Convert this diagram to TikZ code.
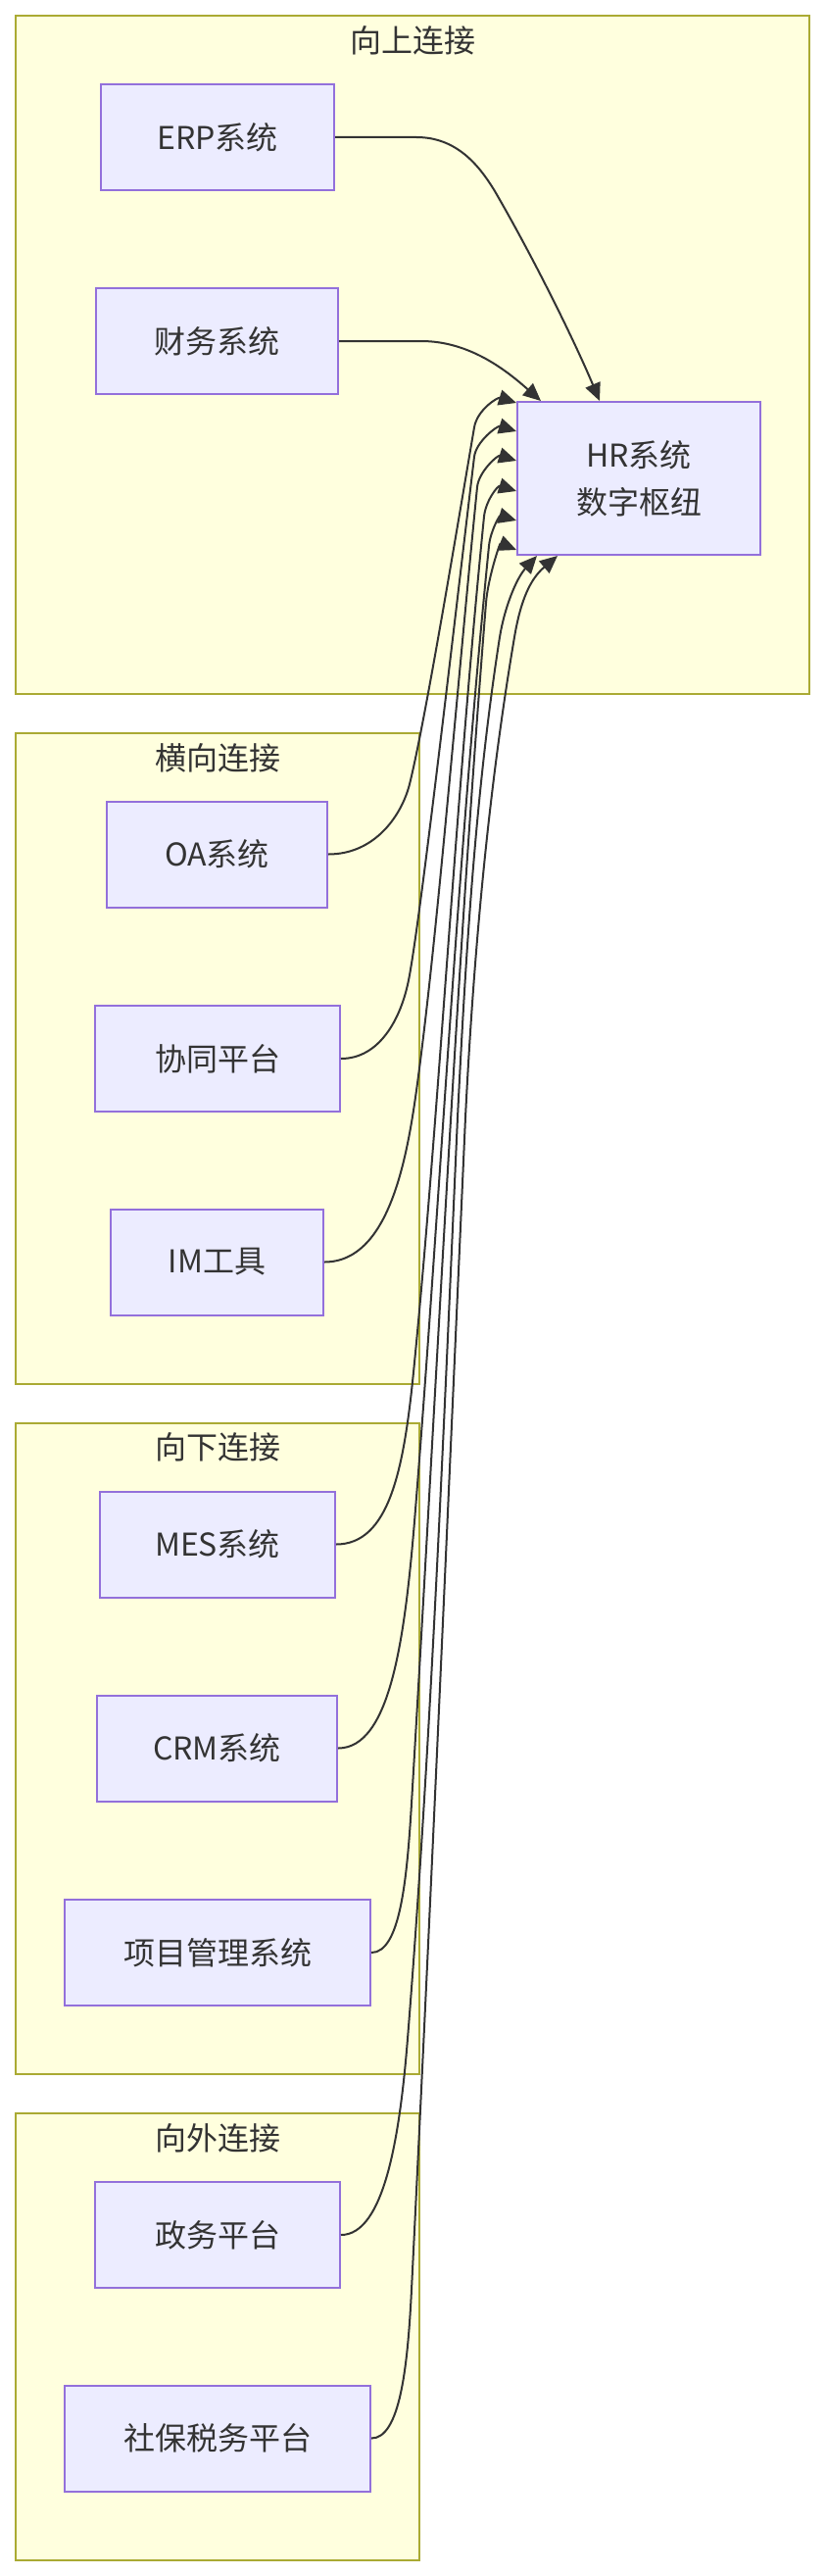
\documentclass[tikz,border=0pt]{standalone}
\usepackage{fontspec}
\setmainfont{Noto Sans CJK SC}
\usetikzlibrary{arrows.meta,calc}
\definecolor{clfill}{HTML}{FFFFDE}
\definecolor{clline}{HTML}{AAAA33}
\definecolor{ndfill}{HTML}{ECECFF}
\definecolor{ndline}{HTML}{9370DB}
\definecolor{txt}{HTML}{333333}
\definecolor{edgec}{HTML}{333333}
\begin{document}
\begin{tikzpicture}[x=0.5pt,y=-0.5pt,
  cluster/.style={draw=clline, fill=clfill, line width=1pt, inner sep=0pt},
  box/.style={draw=ndline, fill=ndfill, line width=1pt, minimum height=54pt, inner sep=0pt,
    font=\fontsize{16pt}{24pt}\selectfont, text=txt, align=center},
  ctitle/.style={font=\fontsize{16pt}{24pt}\selectfont, text=txt, inner sep=0pt},
  edge/.style={draw=edgec, line width=1pt, -{Triangle[length=9pt,width=8pt]}}]

\fill[white] (0,0) rectangle (842,2628);
\useasboundingbox (0,0) rectangle (842,2628);

% clusters
\node[cluster, minimum width=405pt, minimum height=346pt] (c1) at (421,362) {};
\node[cluster, minimum width=206pt, minimum height=332pt] (c2) at (222,1080) {};
\node[cluster, minimum width=206pt, minimum height=332pt] (c3) at (222,1784) {};
\node[cluster, minimum width=206pt, minimum height=228pt] (c4) at (222,2384) {};

\node[ctitle] (ttl1) at (421,41) {向上连接};
\node[ctitle] (ttl2) at (222,773) {横向连接};
\node[ctitle] (ttl3) at (222,1476) {向下连接};
\node[ctitle] (ttl4) at (222,2181) {向外连接};

% nodes
\node[box, minimum width=119pt] (erp) at (222,140) {ERP系统};
\node[box, minimum width=123.5pt] (cw) at (221.5,348) {财务系统};
\node[box, minimum width=124pt, minimum height=78pt] (hr) at (652,488) {HR系统\\数字枢纽};
\node[box, minimum width=112.5pt] (oa) at (221.5,871.5) {OA系统};
\node[box, minimum width=125pt] (xt) at (222,1080) {协同平台};
\node[box, minimum width=108.5pt] (im) at (221.5,1287.5) {IM工具};
\node[box, minimum width=120pt] (mes) at (222,1575.5) {MES系统};
\node[box, minimum width=122.5pt] (crm) at (221.5,1783.5) {CRM系统};
\node[box, minimum width=156pt] (pm) at (222,1992) {项目管理系统};
\node[box, minimum width=125pt] (zw) at (222,2280) {政务平台};
\node[box, minimum width=156pt] (sb) at (222,2487.5) {社保税务平台};

% target points on HR
\coordinate (pE) at ($(hr.north)+(-40,0)$);
\coordinate (pF) at ($(hr.north west)+(25,0)$);
\coordinate (p1) at ($(hr.north west)+(0,2)$);
\coordinate (p2) at ($(hr.north west)+(0,31)$);
\coordinate (p3) at ($(hr.north west)+(0,61)$);
\coordinate (p4) at ($(hr.north west)+(0,92)$);
\coordinate (p5) at ($(hr.north west)+(0,122)$);
\coordinate (p6) at ($(hr.north west)+(0,152)$);
\coordinate (p7) at ($(hr.south west)+(21,0)$);
\coordinate (p8) at ($(hr.south west)+(42,0)$);

% edges
\draw[edge] (erp.east) -- (425,140) .. controls (465,140) and (488,167) .. (505,195)
  .. controls (545.6,265) and (586.8,349) .. (pE);
\draw[edge] (cw.east) -- (430,348) .. controls (480,348) and (518,379) .. (pF);

\draw[edge] (oa.east) .. controls (384,871.5) and (410.5,830) .. (418,800)
  .. controls (433,740) and (463.6,556) .. (484,436)
  .. controls (487,418) and (508,405) .. (p1);
\draw[edge] (xt.east) .. controls (387,1080) and (409,1040) .. (417,1000)
  .. controls (429,940) and (463.6,636) .. (484,466)
  .. controls (486,450) and (508,434) .. (p2);
\draw[edge] (im.east) .. controls (401,1287.5) and (417.6,1170) .. (428,1090)
  .. controls (447.5,940) and (467,697) .. (487,497)
  .. controls (488.6,481) and (508,464) .. (p3);
\draw[edge] (mes.east) .. controls (397,1575.5) and (412,1500) .. (422,1400)
  .. controls (447,1150) and (464,827) .. (494,527)
  .. controls (495.6,511) and (508,495) .. (p4);
\draw[edge] (crm.east) .. controls (399,1783.5) and (413.6,1670) .. (424,1540)
  .. controls (448,1240) and (466,887) .. (499,557)
  .. controls (500.6,541) and (510,526) .. (p5);
\draw[edge] (pm.east) .. controls (408,1992) and (415.2,1920) .. (420,1840)
  .. controls (444,1440) and (464,1015) .. (496,615)
  .. controls (498,590) and (510,554) .. (p6);
\draw[edge] (zw.east) .. controls (392,2280) and (408,2180) .. (416,2080)
  .. controls (440,1780) and (453.5,1440) .. (467,1140)
  .. controls (475,980) and (485,810) .. (510,650)
  .. controls (514.8,620) and (527,590) .. (p7);
\draw[edge] (sb.east) .. controls (408,2487.5) and (416,2416) .. (420,2336)
  .. controls (440,1936) and (457,1540) .. (475,1140)
  .. controls (483,980) and (497.8,810) .. (525,650)
  .. controls (531.8,610) and (542,590) .. (p8);
\end{tikzpicture}
\end{document}
